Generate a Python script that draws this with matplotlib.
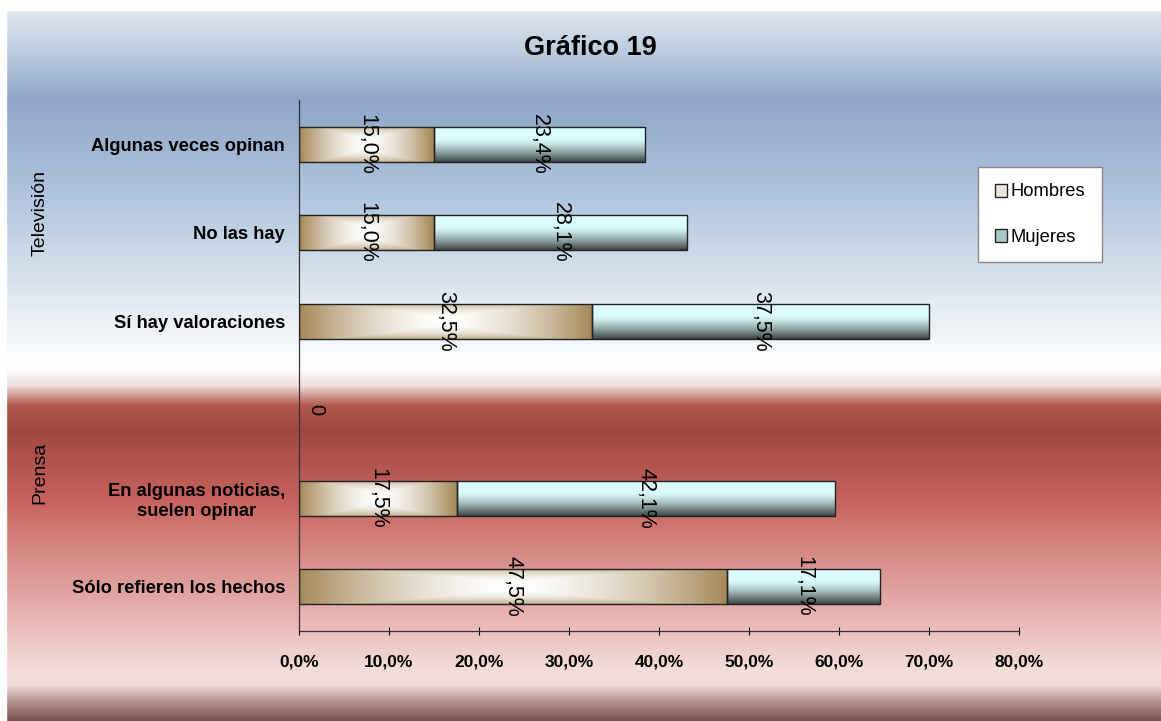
import numpy as np
import matplotlib
matplotlib.use("Agg")
from matplotlib import pyplot as plt
from matplotlib.patches import Patch, Rectangle

plt.rcParams['font.family'] = ['Liberation Sans', 'DejaVu Sans']

# data
categories = ["Algunas veces opinan", "No las hay", "Sí hay valoraciones", "",
              "En algunas noticias,\nsuelen opinar", "Sólo refieren los hechos"]
hombres = [15.0, 15.0, 32.5, 0.0, 17.5, 47.5]
mujeres = [23.4, 28.1, 37.5, 0.0, 42.1, 17.1]
groups = ["Televisión", "Prensa"]
xticks = [0, 10, 20, 30, 40, 50, 60, 70, 80]

W, H = 1161, 721
fig = plt.figure(figsize=(W / 100, H / 100), dpi=100)

# background gradient (pixel rows -> colour)
stops = [(0, "#ffffff"), (10, "#ffffff"), (12, "#dfe7ef"), (60, "#b4c6db"),
         (100, "#8fa6c8"), (200, "#b2c6dd"), (300, "#e2eaf2"), (368, "#ffffff"),
         (385, "#f0dedb"), (405, "#b2584e"), (430, "#9e4840"), (500, "#c8625e"),
         (560, "#d88f8b"), (620, "#e9b6b4"), (668, "#f3dcd9"), (684, "#efdcd8"),
         (700, "#b69692"), (721, "#7a524d")]
rows = np.arange(H)
py = [s[0] for s in stops]
cols = np.array([matplotlib.colors.to_rgb(s[1]) for s in stops])
prof = np.stack([np.interp(rows, py, cols[:, k]) for k in range(3)], axis=1)
bg_img = np.repeat(prof[:, None, :], 4, axis=1)
bg = fig.add_axes([0, 0, 1, 1], zorder=-10)
bg.imshow(bg_img, aspect='auto', extent=[0, 1, 0, 1], origin='upper')
bg.add_patch(Rectangle((0, 0), 6 / W, 1, color='white', transform=bg.transAxes))
bg.axis('off')

ax = fig.add_axes([299 / W, 1 - 631 / H, (1019 - 299) / W, (631 - 100) / H])
ax.set_facecolor('none')

y = np.arange(len(categories))
bh = 0.4
b1 = ax.barh(y, hombres, height=bh, facecolor='none', edgecolor='#222222', lw=1.0, zorder=3)
b2 = ax.barh(y, mujeres, left=hombres, height=bh, facecolor='none', edgecolor='#222222', lw=1.0, zorder=3)

# gradient fills
n = 64
u = np.linspace(0, 1, n)
dx = np.abs(u - 0.5) * 2
tan = np.array(matplotlib.colors.to_rgb("#a68a5a"))
white = np.ones(3)
light = np.array(matplotlib.colors.to_rgb("#dcfbfb"))
dark = np.array(matplotlib.colors.to_rgb("#3e4646"))


def hombres_img(w):
    nx = max(int(w * 4), 8)
    ux = np.abs(np.linspace(0, 1, nx) - 0.5) * 2
    d = np.maximum(ux[None, :] ** 1.3, (dx[:, None] * 0.85) ** 2.0)
    d = np.clip(d, 0, 1) ** 1.2
    return white * (1 - d[..., None]) + tan * d[..., None]


def mujeres_img():
    t = np.clip((u - 0.35) / 0.65, 0, 1) ** 1.3
    col = light * (1 - t[:, None]) + dark * t[:, None]
    return np.repeat(col[:, None, :], 4, axis=1)


for bars, kind in ((b1, 'h'), (b2, 'm')):
    for p in bars:
        w = p.get_width()
        if w <= 0:
            p.set_visible(False)
            continue
        x0, y0, hh = p.get_x(), p.get_y(), p.get_height()
        img = hombres_img(w) if kind == 'h' else mujeres_img()
        im = ax.imshow(img, extent=[x0, x0 + w, y0 + hh, y0], origin='upper',
                       aspect='auto', zorder=2, interpolation='bilinear')
        im.set_clip_path(p)

# data labels
for i in range(len(categories)):
    if hombres[i] == 0 and mujeres[i] == 0:
        ax.annotate("0", (0, y[i]), xytext=(12, 0), textcoords='offset points',
                    rotation=270, ha='center', va='center', fontsize=14.5, zorder=5)
        continue
    for left, v in ((0, hombres[i]), (hombres[i], mujeres[i])):
        ax.text(left + v / 2, y[i], f"{v:.1f}%".replace('.', ','), rotation=270,
                ha='center', va='center', fontsize=15.5, zorder=5)

ax.set_xlim(0, 80)
ax.set_ylim(len(categories) - 0.5, -0.5)
ax.set_xticks(xticks)
ax.set_xticklabels([f"{v:.1f}%".replace('.', ',') for v in xticks],
                   fontsize=12.5, fontweight='bold')
ax.set_yticks(y)
ax.set_yticklabels(categories, fontsize=13.2, fontweight='bold', ha='right',
                   multialignment='center')
ax.tick_params(axis='y', length=0, pad=10)
ax.tick_params(axis='x', length=6, direction='inout', pad=14)
for s in ('top', 'right'):
    ax.spines[s].set_visible(False)
for s in ('left', 'bottom'):
    ax.spines[s].set_color('#333333')
    ax.spines[s].set_linewidth(0.9)

# group labels
fig.text(40 / W, 1 - 213 / H, groups[0], rotation=90, ha='center', va='center', fontsize=14)
fig.text(40 / W, 1 - 473 / H, groups[1], rotation=90, ha='center', va='center', fontsize=14)

fig.text(590 / W, 1 - 48 / H, "Gráfico 19", ha='center', va='center',
         fontsize=19.5, fontweight='bold')

handles = [Patch(facecolor='#ece6da', edgecolor='#222222', label='Hombres'),
           Patch(facecolor='#a8c8c8', edgecolor='#222222', label='Mujeres')]
leg = fig.legend(handles=handles, loc='upper left',
                 bbox_to_anchor=(978 / W, 1 - 167 / H), bbox_transform=fig.transFigure,
                 fontsize=13.2, frameon=True, fancybox=False, labelspacing=1.55,
                 handlelength=0.7, handleheight=0.7, handletextpad=0.2,
                 borderpad=0.9, borderaxespad=0)
leg.get_frame().set_edgecolor('#888888')
leg.get_frame().set_facecolor('white')
leg.get_frame().set_alpha(1)

fig.savefig("out.png", dpi=100)
